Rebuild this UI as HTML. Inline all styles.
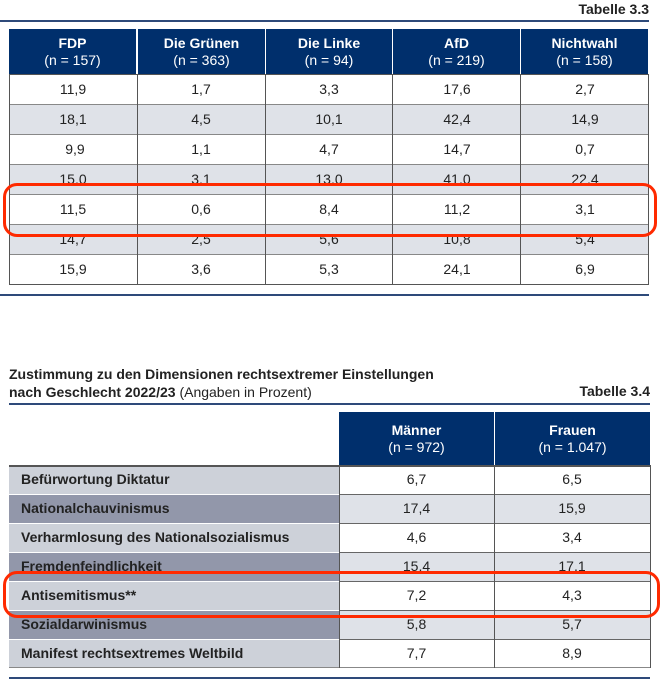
<!DOCTYPE html>
<html><head><meta charset="utf-8"><style>
*{margin:0;padding:0;box-sizing:border-box}
body{width:662px;height:687px;background:#fff;position:relative;overflow:hidden;font-family:"Liberation Sans",sans-serif;color:#222}
.a{position:absolute}
.h{background:#002f6c;color:#fff;text-align:center;font-size:14px;line-height:17px;padding-top:6px}
.c{text-align:center;font-size:14px;line-height:30px}
.g{background:#dfe2e8}
.w{background:#fff}
.hl{background:#555}
.vl{background:#555;width:1px}
.lab{font-weight:bold;font-size:14px;line-height:29px;padding-left:12px;white-space:nowrap}
.L1{background:#cdd1d9}
.L2{background:#9297aa}
.box{border:3px solid #ff2a00;border-radius:14px}
.r{display:flex}
.r>div{width:128px}
</style></head><body>
<div class="a" style="right:13px;top:1px;font-weight:bold;font-size:14px">Tabelle 3.3</div>
<div class="a" style="left:0;top:20px;width:649px;height:2px;background:#2e4a7a"></div>

<div class="a h" style="left:9px;top:29px;width:127px;height:45px"><b>FDP</b><br>(n = 157)</div>
<div class="a h" style="left:138px;top:29px;width:127px;height:45px"><b>Die Grünen</b><br>(n = 363)</div>
<div class="a h" style="left:266px;top:29px;width:126px;height:45px"><b>Die Linke</b><br>(n = 94)</div>
<div class="a h" style="left:393px;top:29px;width:127px;height:45px"><b>AfD</b><br>(n = 219)</div>
<div class="a h" style="left:521px;top:29px;width:127px;height:45px"><b>Nichtwahl</b><br>(n = 158)</div>

<div class="a w" style="left:9px;top:74px;width:639px;height:30px"></div>
<div class="a g" style="left:9px;top:104px;width:639px;height:30px"></div>
<div class="a w" style="left:9px;top:134px;width:639px;height:30px"></div>
<div class="a g" style="left:9px;top:164px;width:639px;height:30px"></div>
<div class="a w" style="left:9px;top:194px;width:639px;height:30px"></div>
<div class="a g" style="left:9px;top:224px;width:639px;height:30px"></div>
<div class="a w" style="left:9px;top:254px;width:639px;height:30px"></div>

<div class="a c" style="left:9px;top:74px;width:640px">
<div class="r"><div>11,9</div><div>1,7</div><div>3,3</div><div>17,6</div><div>2,7</div></div>
<div class="r"><div>18,1</div><div>4,5</div><div>10,1</div><div>42,4</div><div>14,9</div></div>
<div class="r"><div>&nbsp;9,9</div><div>1,1</div><div>4,7</div><div>14,7</div><div>0,7</div></div>
<div class="r"><div>15,0</div><div>3,1</div><div>13,0</div><div>41,0</div><div>22,4</div></div>
<div class="r"><div>11,5</div><div>0,6</div><div>8,4</div><div>11,2</div><div>3,1</div></div>
<div class="r"><div>14,7</div><div>2,5</div><div>5,6</div><div>10,8</div><div>5,4</div></div>
<div class="r"><div>15,9</div><div>3,6</div><div>5,3</div><div>24,1</div><div>6,9</div></div>
</div>
<div class="a g" style="left:9px;top:185px;width:639px;height:9px"></div>
<div class="a g" style="left:9px;top:225px;width:639px;height:7px"></div>

<div class="a hl" style="left:9px;top:74px;width:639px;height:1px"></div>
<div class="a" style="left:9px;top:104px;width:639px;height:1px;background:#888"></div>
<div class="a" style="left:9px;top:134px;width:639px;height:1px;background:#888"></div>
<div class="a" style="left:9px;top:164px;width:639px;height:1px;background:#888"></div>
<div class="a" style="left:9px;top:194px;width:639px;height:1px;background:#888"></div>
<div class="a" style="left:9px;top:224px;width:639px;height:1px;background:#888"></div>
<div class="a" style="left:9px;top:254px;width:639px;height:1px;background:#888"></div>
<div class="a hl" style="left:9px;top:284px;width:639px;height:1px"></div>
<div class="a vl" style="left:9px;top:74px;height:211px"></div>
<div class="a vl" style="left:137px;top:74px;height:211px"></div>
<div class="a vl" style="left:265px;top:74px;height:211px"></div>
<div class="a vl" style="left:392px;top:74px;height:211px"></div>
<div class="a vl" style="left:520px;top:74px;height:211px"></div>
<div class="a vl" style="left:648px;top:74px;height:211px"></div>
<div class="a" style="left:0;top:294px;width:649px;height:2px;background:#2e4a7a"></div>
<div class="a box" style="left:3px;top:183px;width:654px;height:54px"></div>

<div class="a" style="left:9px;top:365px;font-size:14px;line-height:18px;font-weight:bold;white-space:nowrap">Zustimmung zu den Dimensionen rechtsextremer Einstellungen<br>nach Geschlecht 2022/23 <span style="font-weight:normal">(Angaben in Prozent)</span></div>
<div class="a" style="right:12px;top:383px;font-weight:bold;font-size:14px">Tabelle 3.4</div>
<div class="a" style="left:9px;top:403px;width:641px;height:2px;background:#2e4a7a"></div>

<div class="a h" style="left:339px;top:412px;width:155px;height:53px;padding-top:10px"><b>Männer</b><br>(n = 972)</div>
<div class="a h" style="left:495px;top:412px;width:155px;height:53px;padding-top:10px"><b>Frauen</b><br>(n = 1.047)</div>

<div class="a" style="left:9px;top:465px;width:641px">
<div style="display:flex;height:29px"><div class="lab L1" style="width:330px">Befürwortung Diktatur</div><div class="c w" style="width:155px;line-height:29px">6,7</div><div class="c w" style="width:156px;line-height:29px">6,5</div></div>
<div style="display:flex;height:29px"><div class="lab L2" style="width:330px">Nationalchauvinismus</div><div class="c g" style="width:155px;line-height:29px">17,4</div><div class="c g" style="width:156px;line-height:29px">15,9</div></div>
<div style="display:flex;height:29px"><div class="lab L1" style="width:330px">Verharmlosung des Nationalsozialismus</div><div class="c w" style="width:155px;line-height:29px">4,6</div><div class="c w" style="width:156px;line-height:29px">3,4</div></div>
<div style="display:flex;height:29px"><div class="lab L2" style="width:330px">Fremdenfeindlichkeit</div><div class="c g" style="width:155px;line-height:29px">15,4</div><div class="c g" style="width:156px;line-height:29px">17,1</div></div>
<div style="display:flex;height:29px"><div class="lab L1" style="width:330px">Antisemitismus**</div><div class="c w" style="width:155px;line-height:29px">7,2</div><div class="c w" style="width:156px;line-height:29px">4,3</div></div>
<div style="display:flex;height:29px"><div class="lab L2" style="width:330px">Sozialdarwinismus</div><div class="c g" style="width:155px;line-height:29px">5,8</div><div class="c g" style="width:156px;line-height:29px">5,7</div></div>
<div style="display:flex;height:29px"><div class="lab L1" style="width:330px">Manifest rechtsextremes Weltbild</div><div class="c w" style="width:155px;line-height:29px">7,7</div><div class="c w" style="width:156px;line-height:29px">8,9</div></div>
</div>
<div class="a L2" style="left:9px;top:571px;width:330px;height:10px"></div>
<div class="a g" style="left:339px;top:571px;width:311px;height:10px"></div>

<div class="a hl" style="left:9px;top:465px;width:641px;height:2px"></div>
<div class="a" style="left:9px;top:494px;width:330px;height:1px;background:#fff"></div>
<div class="a" style="left:9px;top:523px;width:330px;height:1px;background:#fff"></div>
<div class="a" style="left:9px;top:552px;width:330px;height:1px;background:#fff"></div>
<div class="a" style="left:9px;top:581px;width:330px;height:1px;background:#fff"></div>
<div class="a" style="left:9px;top:610px;width:330px;height:1px;background:#fff"></div>
<div class="a" style="left:9px;top:639px;width:330px;height:1px;background:#fff"></div>
<div class="a" style="left:339px;top:494px;width:311px;height:1px;background:#666"></div>
<div class="a" style="left:339px;top:523px;width:311px;height:1px;background:#666"></div>
<div class="a" style="left:339px;top:552px;width:311px;height:1px;background:#666"></div>
<div class="a" style="left:339px;top:581px;width:311px;height:1px;background:#666"></div>
<div class="a" style="left:339px;top:610px;width:311px;height:1px;background:#666"></div>
<div class="a" style="left:339px;top:639px;width:311px;height:1px;background:#666"></div>
<div class="a" style="left:9px;top:667px;width:641px;height:1px;background:#888"></div>
<div class="a vl" style="left:339px;top:465px;height:203px"></div>
<div class="a vl" style="left:494px;top:465px;height:203px"></div>
<div class="a vl" style="left:650px;top:465px;height:203px"></div>
<div class="a" style="left:9px;top:677px;width:641px;height:2px;background:#2e4a7a"></div>
<div class="a box" style="left:3px;top:571px;width:657px;height:47px"></div>
</body></html>
